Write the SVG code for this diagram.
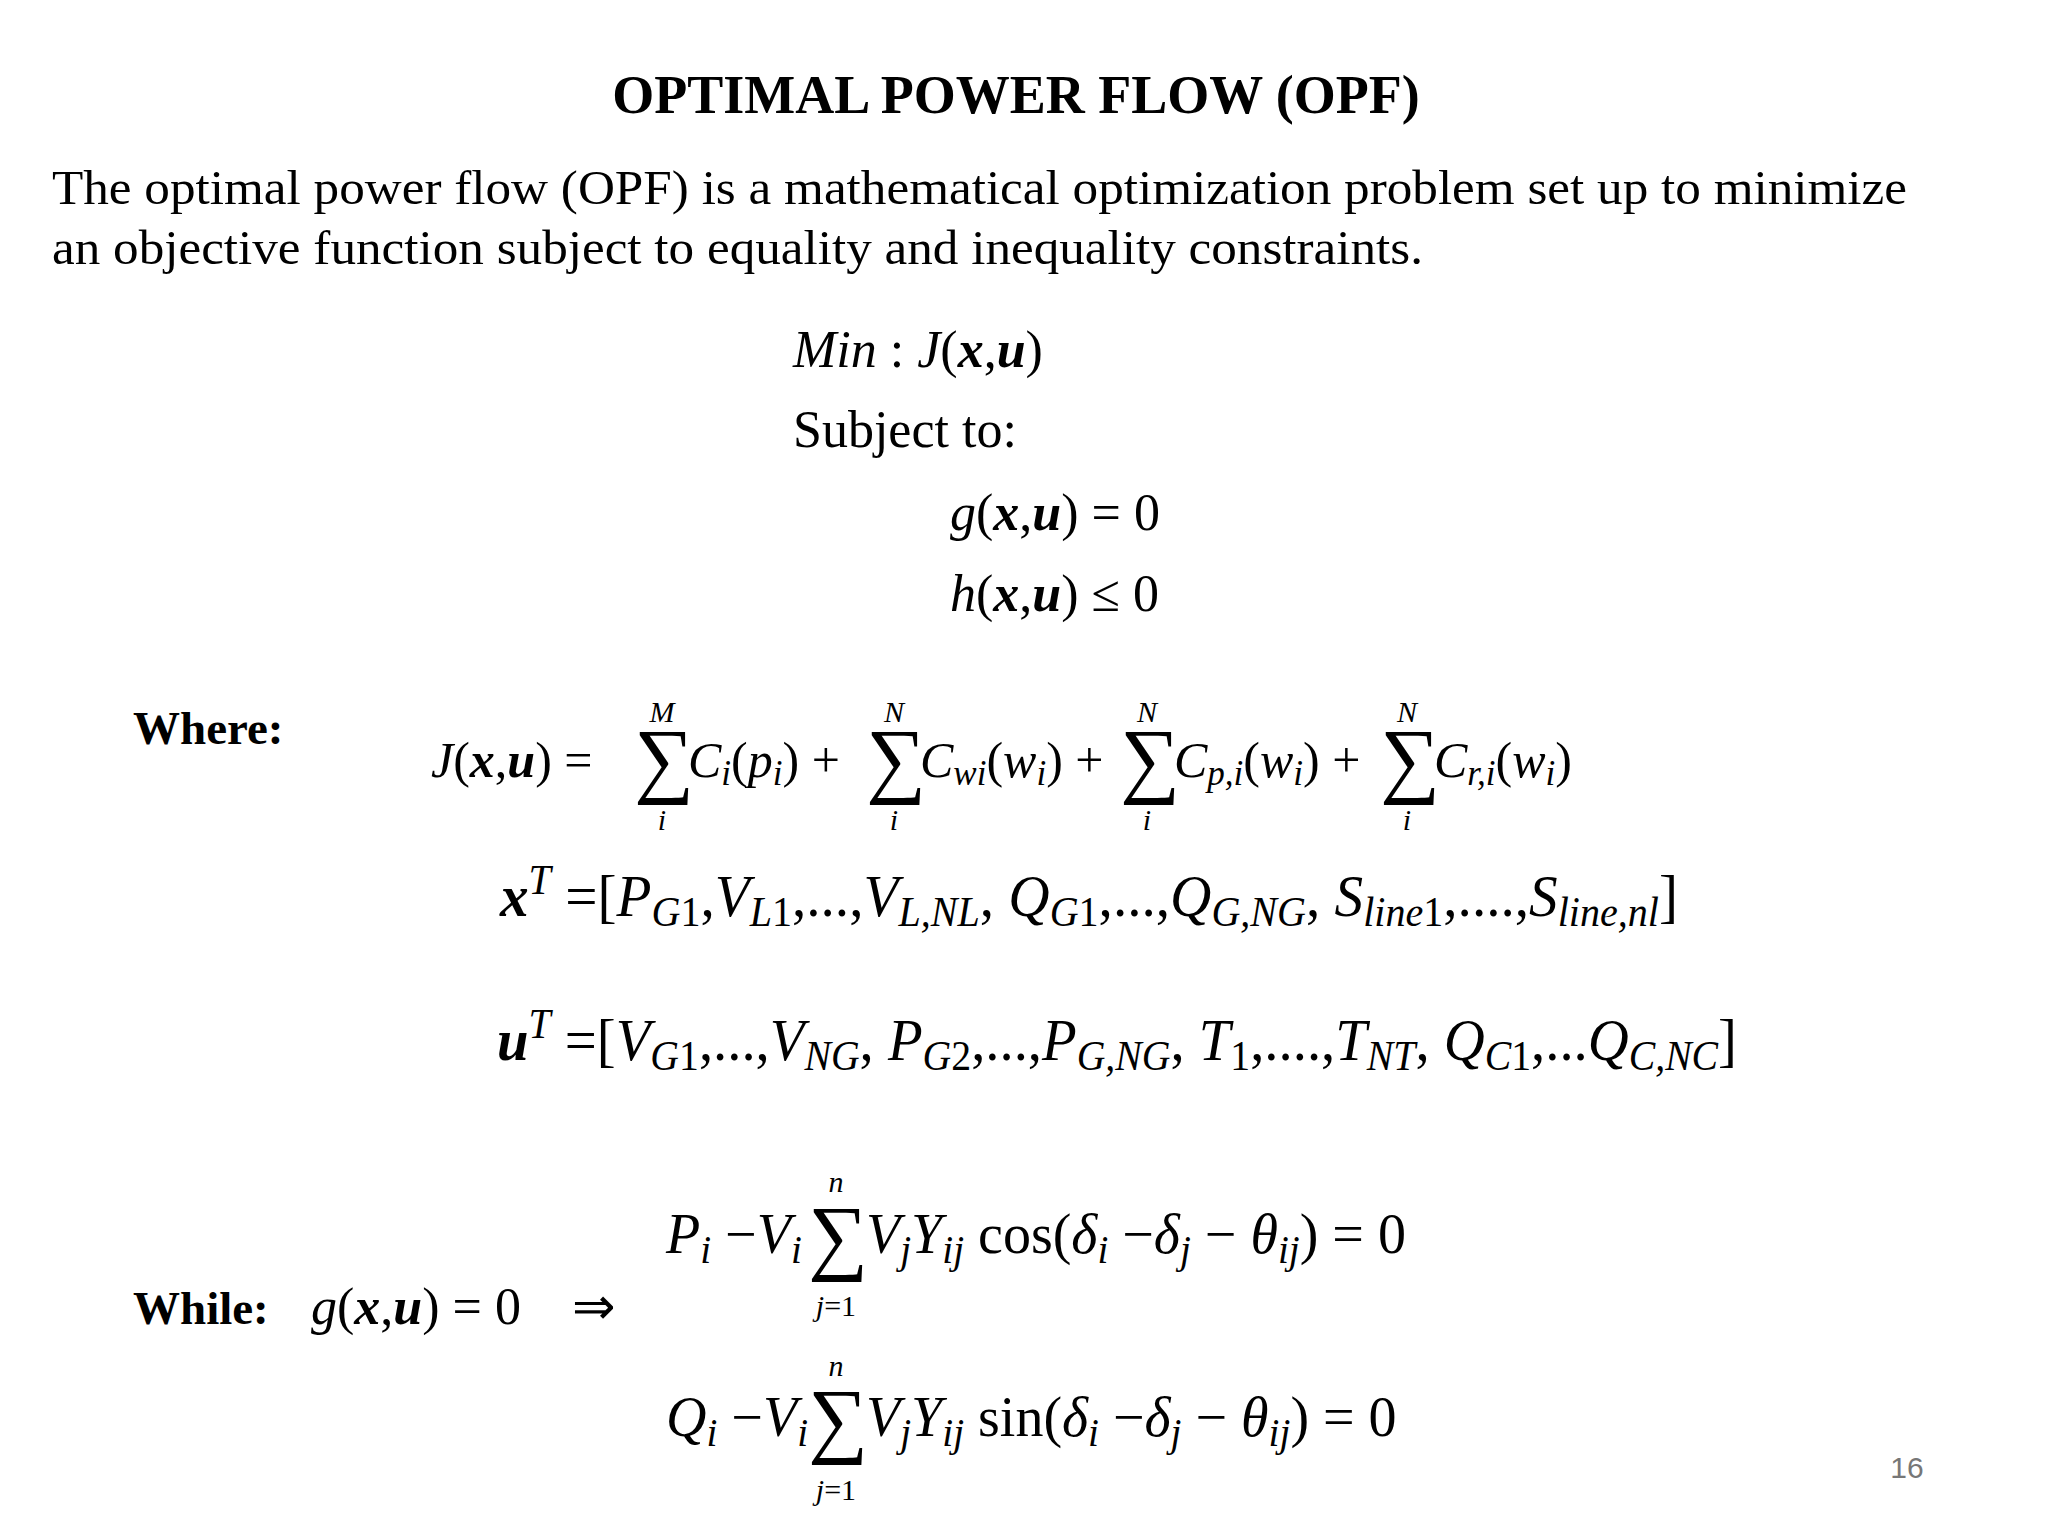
<svg xmlns="http://www.w3.org/2000/svg" width="2048" height="1536" viewBox="0 0 2048 1536">
<style>
text{font-family:"Liberation Serif","Times New Roman",serif;fill:#000}
.i{font-style:italic}
.b{font-weight:bold}
.bi{font-weight:bold;font-style:italic}
.sub{font-size:70%;font-style:italic}
.sum{font-size:84px;font-style:normal}
.lim{font-size:30px;font-style:italic}
</style>
<rect width="2048" height="1536" fill="#fff"/>
<text x="1016" y="113" font-size="54" class="b" text-anchor="middle">OPTIMAL POWER FLOW (OPF)</text>
<text x="52" y="204" font-size="48" textLength="1855" lengthAdjust="spacingAndGlyphs">The optimal power flow (OPF) is a mathematical optimization problem set up to minimize</text>
<text x="52" y="264" font-size="48" textLength="1371" lengthAdjust="spacingAndGlyphs">an objective function subject to equality and inequality constraints.</text>
<g font-size="52">
<text x="793" y="367"><tspan class="i">Min</tspan> :  <tspan class="i">J</tspan>(<tspan class="bi">x</tspan>,<tspan class="bi">u</tspan>)</text>
<text x="793" y="447">Subject to:</text>
<text x="950" y="530"><tspan class="i">g</tspan>(<tspan class="bi">x</tspan>,<tspan class="bi">u</tspan>) = 0</text>
<text x="950" y="611"><tspan class="i">h</tspan>(<tspan class="bi">x</tspan>,<tspan class="bi">u</tspan>) ≤ 0</text>
</g>
<text x="133" y="744" font-size="47" class="b">Where:</text>
<g font-size="50">
<text x="431" y="777"><tspan class="i">J</tspan>(<tspan class="bi">x</tspan>,<tspan class="bi">u</tspan>) = </text>
<text x="634" y="787" class="sum">∑</text>
<text x="688" y="777"><tspan class="i">C</tspan><tspan class="sub" dy="8">i</tspan><tspan dy="-8">(</tspan><tspan class="i">p</tspan><tspan class="sub" dy="8">i</tspan><tspan dy="-8">) +</tspan></text>
<text x="866" y="787" class="sum">∑</text>
<text x="920" y="777"><tspan class="i">C</tspan><tspan class="sub" dy="8">wi</tspan><tspan dy="-8">(</tspan><tspan class="i">w</tspan><tspan class="sub" dy="8">i</tspan><tspan dy="-8">) +</tspan></text>
<text x="1120" y="787" class="sum">∑</text>
<text x="1174" y="777"><tspan class="i">C</tspan><tspan class="sub" dy="8">p,i</tspan><tspan dy="-8">(</tspan><tspan class="i">w</tspan><tspan class="sub" dy="8">i</tspan><tspan dy="-8">) +</tspan></text>
<text x="1380" y="787" class="sum">∑</text>
<text x="1434" y="777"><tspan class="i">C</tspan><tspan class="sub" dy="8">r,i</tspan><tspan dy="-8">(</tspan><tspan class="i">w</tspan><tspan class="sub" dy="8">i</tspan><tspan dy="-8">)</tspan></text>
</g>
<g class="lim" text-anchor="middle">
<text x="662" y="722">M</text><text x="662" y="830">i</text>
<text x="894" y="722">N</text><text x="894" y="830">i</text>
<text x="1147" y="722">N</text><text x="1147" y="830">i</text>
<text x="1407" y="722">N</text><text x="1407" y="830">i</text>
</g>
<text x="500" y="916" font-size="60" textLength="1178" lengthAdjust="spacingAndGlyphs"><tspan class="bi">x</tspan><tspan class="sub" dy="-22">T</tspan><tspan dy="22"> =[</tspan><tspan class="i">P</tspan><tspan class="sub" dy="10">G</tspan><tspan font-size="70%" dy="0">1</tspan><tspan dy="-10">,</tspan><tspan class="i">V</tspan><tspan class="sub" dy="10">L</tspan><tspan font-size="70%">1</tspan><tspan dy="-10">,...,</tspan><tspan class="i">V</tspan><tspan class="sub" dy="10">L,NL</tspan><tspan dy="-10">, </tspan><tspan class="i">Q</tspan><tspan class="sub" dy="10">G</tspan><tspan font-size="70%">1</tspan><tspan dy="-10">,...,</tspan><tspan class="i">Q</tspan><tspan class="sub" dy="10">G,NG</tspan><tspan dy="-10">, </tspan><tspan class="i">S</tspan><tspan class="sub" dy="10">line</tspan><tspan font-size="70%">1</tspan><tspan dy="-10">,....,</tspan><tspan class="i">S</tspan><tspan class="sub" dy="10">line,nl</tspan><tspan dy="-10">]</tspan></text>
<text x="497" y="1060" font-size="60" textLength="1240" lengthAdjust="spacingAndGlyphs"><tspan class="bi">u</tspan><tspan class="sub" dy="-22">T</tspan><tspan dy="22"> =[</tspan><tspan class="i">V</tspan><tspan class="sub" dy="10">G</tspan><tspan font-size="70%">1</tspan><tspan dy="-10">,...,</tspan><tspan class="i">V</tspan><tspan class="sub" dy="10">NG</tspan><tspan dy="-10">, </tspan><tspan class="i">P</tspan><tspan class="sub" dy="10">G</tspan><tspan font-size="70%">2</tspan><tspan dy="-10">,...,</tspan><tspan class="i">P</tspan><tspan class="sub" dy="10">G,NG</tspan><tspan dy="-10">, </tspan><tspan class="i">T</tspan><tspan font-size="70%" dy="10">1</tspan><tspan dy="-10">,....,</tspan><tspan class="i">T</tspan><tspan class="sub" dy="10">NT</tspan><tspan dy="-10">, </tspan><tspan class="i">Q</tspan><tspan class="sub" dy="10">C</tspan><tspan font-size="70%">1</tspan><tspan dy="-10">,...</tspan><tspan class="i">Q</tspan><tspan class="sub" dy="10">C,NC</tspan><tspan dy="-10">]</tspan></text>
<text x="133" y="1324" font-size="47" class="b">While:</text>
<text x="311" y="1324" font-size="52"><tspan class="i">g</tspan>(<tspan class="bi">x</tspan>,<tspan class="bi">u</tspan>) = 0</text>
<text x="572" y="1324" font-size="52">⇒</text>
<g font-size="56">
<text x="666" y="1253"><tspan class="i">P</tspan><tspan class="sub" dy="10">i</tspan><tspan dy="-10"> −</tspan><tspan class="i">V</tspan><tspan class="sub" dy="10">i</tspan></text>
<text x="808" y="1264" class="sum">∑</text>
<text x="866" y="1253"><tspan class="i">V</tspan><tspan class="sub" dy="10">j</tspan><tspan dy="-10" class="i">Y</tspan><tspan class="sub" dy="10">ij</tspan><tspan dy="-10"> cos(</tspan><tspan class="i">δ</tspan><tspan class="sub" dy="10">i</tspan><tspan dy="-10"> −</tspan><tspan class="i">δ</tspan><tspan class="sub" dy="10">j</tspan><tspan dy="-10"> − </tspan><tspan class="i">θ</tspan><tspan class="sub" dy="10">ij</tspan><tspan dy="-10">) = 0</tspan></text>
<text x="666" y="1436"><tspan class="i">Q</tspan><tspan class="sub" dy="10">i</tspan><tspan dy="-10"> −</tspan><tspan class="i">V</tspan><tspan class="sub" dy="10">i</tspan></text>
<text x="808" y="1447" class="sum">∑</text>
<text x="866" y="1436"><tspan class="i">V</tspan><tspan class="sub" dy="10">j</tspan><tspan dy="-10" class="i">Y</tspan><tspan class="sub" dy="10">ij</tspan><tspan dy="-10"> sin(</tspan><tspan class="i">δ</tspan><tspan class="sub" dy="10">i</tspan><tspan dy="-10"> −</tspan><tspan class="i">δ</tspan><tspan class="sub" dy="10">j</tspan><tspan dy="-10"> − </tspan><tspan class="i">θ</tspan><tspan class="sub" dy="10">ij</tspan><tspan dy="-10">) = 0</tspan></text>
</g>
<g class="lim" text-anchor="middle">
<text x="836" y="1192">n</text><text x="836" y="1316"><tspan>j</tspan><tspan font-style="normal">=1</tspan></text>
<text x="836" y="1376">n</text><text x="836" y="1500"><tspan>j</tspan><tspan font-style="normal">=1</tspan></text>
</g>
<text x="1907" y="1478" font-size="30" style="font-family:'Liberation Sans',Arial,sans-serif;fill:#777" text-anchor="middle">16</text>
</svg>
